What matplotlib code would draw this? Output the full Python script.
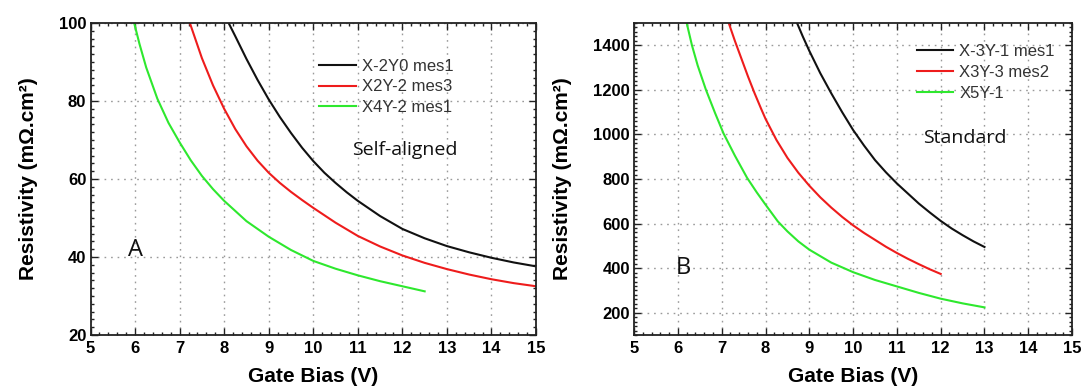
import matplotlib
matplotlib.use("Agg")
import matplotlib.pyplot as plt
from matplotlib.ticker import MultipleLocator

# ---- Panel A: self-aligned devices ----
a_black_x = [8.1, 8.25, 8.5, 8.75, 9.0, 9.25, 9.5, 9.75, 10.0, 10.25, 10.5, 10.75, 11.0,
             11.5, 12.0, 12.5, 13.0, 13.5, 14.0, 14.5, 15.0]
a_black_y = [100, 96.6, 90.8, 85.4, 80.4, 75.9, 71.8, 68.0, 64.6, 61.6, 59.0, 56.6, 54.4,
             50.5, 47.2, 44.8, 42.8, 41.2, 39.8, 38.6, 37.6]
a_red_x = [7.23, 7.5, 7.75, 8.0, 8.25, 8.5, 8.75, 9.0, 9.25, 9.5, 9.75, 10.0, 10.5,
           11.0, 11.5, 12.0, 12.5, 13.0, 13.5, 14.0, 14.5, 15.0]
a_red_y = [100, 91.0, 84.0, 78.0, 72.8, 68.4, 64.7, 61.6, 59.0, 56.7, 54.6, 52.6, 48.8,
           45.4, 42.7, 40.4, 38.5, 36.9, 35.5, 34.3, 33.3, 32.5]
a_green_x = [5.98, 6.1, 6.25, 6.5, 6.75, 7.0, 7.25, 7.5, 7.75, 8.0, 8.5, 9.0, 9.5, 10.0,
             10.5, 11.0, 11.5, 12.0, 12.5]
a_green_y = [100, 94.6, 88.6, 80.6, 74.4, 69.4, 64.8, 60.8, 57.4, 54.4, 49.2, 45.2, 41.8,
             39.0, 37.0, 35.3, 33.8, 32.5, 31.2]
a_labels = ["X-2Y0 mes1", "X2Y-2 mes3", "X4Y-2 mes1"]

# ---- Panel B: standard devices ----
b_black_x = [8.72, 8.85, 9.0, 9.25, 9.5, 9.75, 10.0, 10.25, 10.5, 10.75, 11.0, 11.25, 11.5,
             11.75, 12.0, 12.25, 12.5, 12.75, 13.0]
b_black_y = [1500, 1440, 1375, 1275, 1185, 1100, 1020, 950, 885, 830, 780, 735, 690,
             650, 612, 578, 548, 520, 495]
b_red_x = [7.16, 7.3, 7.45, 7.6, 7.75, 7.9, 8.0, 8.25, 8.5, 8.75, 9.0, 9.25, 9.5, 9.75,
           10.0, 10.25, 10.5, 10.75, 11.0, 11.25, 11.5, 11.75, 12.0]
b_red_y = [1500, 1420, 1340, 1260, 1185, 1115, 1070, 975, 895, 828, 770, 718, 672, 630,
           592, 558, 527, 496, 468, 442, 418, 395, 374]
b_green_x = [6.2, 6.32, 6.45, 6.64, 6.85, 7.04, 7.3, 7.58, 7.8, 8.0, 8.28, 8.5, 8.75, 9.0,
             9.5, 10.0, 10.5, 11.0, 11.5, 12.0, 12.5, 13.0]
b_green_y = [1500, 1400, 1310, 1200, 1095, 1005, 905, 805, 740, 685, 610, 565, 520, 483,
             425, 382, 347, 318, 289, 263, 242, 224]
b_labels = ["X-3Y-1 mes1", "X3Y-3 mes2", "X5Y-1"]

x_ticks = [5, 6, 7, 8, 9, 10, 11, 12, 13, 14, 15]
a_yticks = [20, 40, 60, 80, 100]
b_yticks = [200, 400, 600, 800, 1000, 1200, 1400]

BLACK = "#111111"
RED = "#ee1c1c"
GREEN = "#2ee82e"

fig = plt.figure(figsize=(10.84, 3.90), dpi=100)
axA = fig.add_axes([0.0835, 0.141, 0.411, 0.800])
axB = fig.add_axes([0.585, 0.141, 0.404, 0.800])

label_font = dict(family="Liberation Sans", weight="bold", size=15)


def style(ax, yticks, ylim, yminor):
    ax.set_xlim(5, 15)
    ax.set_ylim(*ylim)
    ax.set_xticks(x_ticks)
    ax.set_yticks(yticks)
    ax.xaxis.set_minor_locator(MultipleLocator(0.2))
    ax.yaxis.set_minor_locator(MultipleLocator(yminor))
    ax.tick_params(which="both", direction="in", top=True, right=True,
                   color="#222222", width=1.0)
    ax.tick_params(which="major", length=5)
    ax.tick_params(which="minor", length=2.5)
    for lab in ax.get_xticklabels() + ax.get_yticklabels():
        lab.set_fontfamily("Liberation Sans")
        lab.set_fontweight("bold")
        lab.set_fontsize(12)
    ax.tick_params(axis="x", pad=4)
    ax.tick_params(axis="y", pad=3)
    for sp in ax.spines.values():
        sp.set_linewidth(1.3)
        sp.set_color("#222222")
    ax.grid(True, which="major", color="#9a9a9a", linestyle=(0, (1.2, 3.5)),
            linewidth=1.0)
    ax.set_axisbelow(True)
    ax.set_xlabel("Gate Bias (V)", labelpad=8, **label_font)
    ax.set_ylabel("Resistivity (m\u03a9.cm\u00b2)", labelpad=15, **label_font)


style(axA, a_yticks, (20, 100), 2)
style(axB, b_yticks, (100, 1500), 20)

lw = 1.5
axA.plot(a_black_x, a_black_y, color=BLACK, lw=lw, label=a_labels[0])
axA.plot(a_red_x, a_red_y, color=RED, lw=lw, label=a_labels[1])
axA.plot(a_green_x, a_green_y, color=GREEN, lw=lw, label=a_labels[2])

axB.plot(b_black_x, b_black_y, color=BLACK, lw=lw, label=b_labels[0])
axB.plot(b_red_x, b_red_y, color=RED, lw=lw, label=b_labels[1])
axB.plot(b_green_x, b_green_y, color=GREEN, lw=lw, label=b_labels[2])

leg_kw = dict(frameon=False, handlelength=2.2, handletextpad=0.36,
              labelspacing=0.35, borderpad=0, borderaxespad=0,
              prop=dict(family="Liberation Sans", size=12), loc="upper left")
legA = axA.legend(bbox_to_anchor=(0.513, 0.886), **leg_kw)
legB = axB.legend(bbox_to_anchor=(0.645, 0.933), **leg_kw)
for leg in (legA, legB):
    for t in leg.get_texts():
        t.set_color("#333333")

note_font = dict(family="Open Sans", size=14, color="#111111")
axA.text(12.05, 67.4, "Self-aligned", ha="center", va="center", **note_font)
axB.text(12.55, 984, "Standard", ha="center", va="center", **note_font)
axA.text(6.02, 41.8, "A", ha="center", va="center",
         family="Open Sans", size=17, color="#111111")
axB.text(6.12, 400, "B", ha="center", va="center",
         family="Open Sans", size=17, color="#111111")

fig.savefig("out.png", dpi=100, facecolor="white")
